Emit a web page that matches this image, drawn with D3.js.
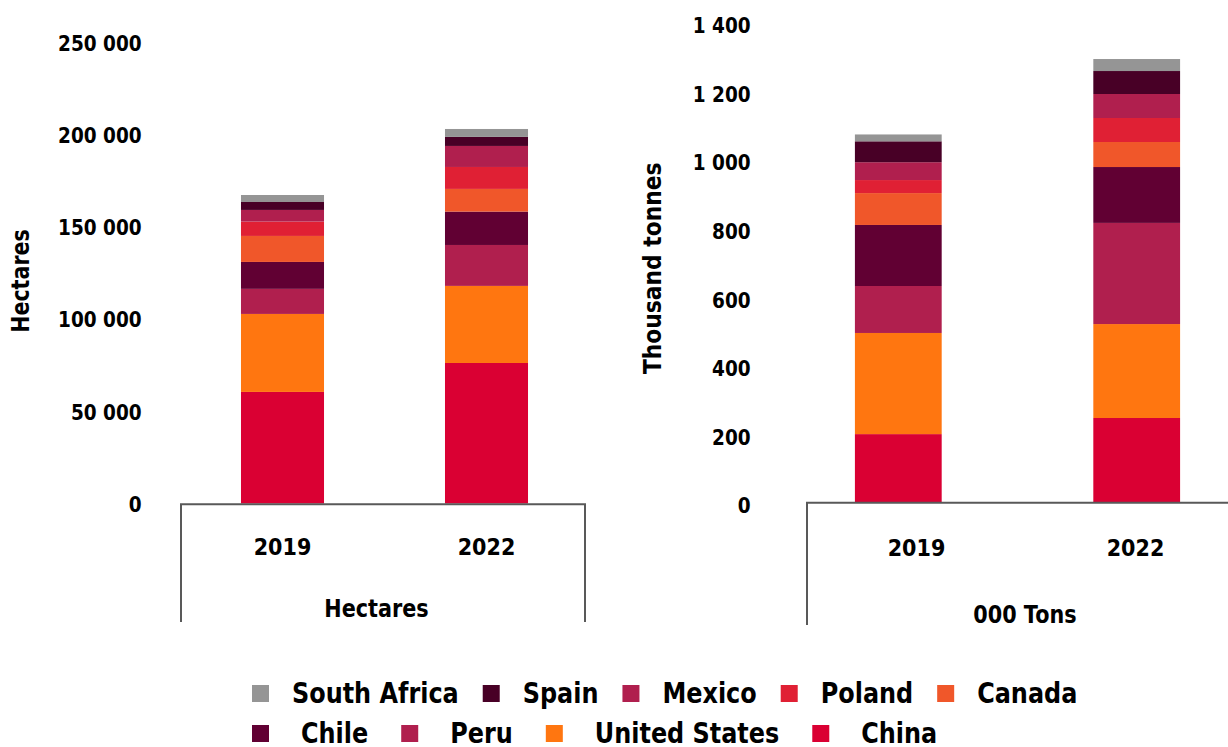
<!DOCTYPE html>
<html>
<head>
<meta charset="utf-8">
<script src="https://cdn.jsdelivr.net/npm/d3@7/dist/d3.min.js"></script>
<style>
  html, body { margin: 0; padding: 0; background: #fff; }
  svg { display: block; }
  text { font-family: "DejaVu Sans", sans-serif; font-weight: bold; fill: #000; }
</style>
</head>
<body>
<svg id="chart" width="1228" height="747"></svg>
<script>
// ---------------- data ----------------
const years = ["2019", "2022"];
const series = ["China", "United States", "Peru", "Chile", "Canada", "Poland", "Mexico", "Spain", "South Africa"];
const seriesColors = ["#DA0033", "#FF7610", "#B01F4E", "#610033", "#F0572A", "#E02034", "#B01F4E", "#480026", "#959595"];
const hectares2019 = [60500, 42300, 13600, 14600, 14100, 7800, 6300, 4300, 3800];
const hectares2022 = [76200, 41800, 22200, 18100, 12300, 11900, 11400, 4900, 4300];
const tons2019 = [198, 295, 137, 178, 93, 38, 52, 61, 20];
const tons2022 = [245, 274, 295, 163, 73, 70, 70, 67, 35];
const hectareTicks = [0, 50000, 100000, 150000, 200000, 250000];
const tonTicks = [0, 200, 400, 600, 800, 1000, 1200, 1400];
const groupLabels = ["Hectares", "000 Tons"];
const axisTitles = ["Hectares", "Thousand tonnes"];
const legendRow1 = ["South Africa", "Spain", "Mexico", "Poland", "Canada"];
const legendRow2 = ["Chile", "Peru", "United States", "China"];

// ---------------- setup ----------------
const svg = d3.select("#chart");
const color = d3.scaleOrdinal(series, seriesColors);
const locale = d3.formatLocale({ decimal: ".", thousands: "\u2009".replace("\u2009", " "), grouping: [3], currency: ["", ""] });
const fmt = locale.format(",");
const CAP = 0.3645; // half cap height ratio for DejaVu

function rowsFor(a, b) {
  return [a, b].map((vals, i) => {
    const r = { year: years[i] };
    series.forEach((s, j) => r[s] = vals[j]);
    return r;
  });
}
const stack = d3.stack().keys(series);

function drawChart(opts) {
  const g = svg.append("g");
  const y = d3.scaleLinear().domain(opts.domain).range(opts.yRange);
  const xBars = d3.scaleBand().domain(years).range(opts.barRange).paddingInner(opts.pad).paddingOuter(opts.pad / 2);
  const xLab = d3.scaleBand().domain(years).range(opts.labRange);

  const stacked = stack(rowsFor(opts.a, opts.b));
  g.selectAll("g.layer").data(stacked).join("g")
    .attr("class", "layer")
    .attr("fill", d => color(d.key))
    .selectAll("rect").data(d => d).join("rect")
    .attr("x", d => xBars(d.data.year))
    .attr("width", xBars.bandwidth())
    .attr("y", d => y(d[1]))
    .attr("height", d => y(d[0]) - y(d[1]));

  // y axis (labels only)
  const ax = g.append("g")
    .attr("transform", `translate(${opts.tickRight},0)`)
    .call(d3.axisLeft(y).tickValues(opts.ticks).tickSize(0).tickPadding(0).tickFormat(fmt));
  ax.select(".domain").remove();
  ax.selectAll(".tick text")
    .attr("x", null).attr("dy", null)
    .attr("text-anchor", "end")
    .attr("font-family", null)
    .style("font-size", "21.5px")
    .style("fill", "#000")
    .attr("transform", `translate(0,${CAP * 21.5 + opts.labelShift}) scale(0.86,1)`);

  // frame lines (category axis)
  const fl = opts.frame;
  g.append("path")
    .attr("d", `M${fl[0]},${fl[3]} V${fl[2]} H${fl[1]}` + (opts.closeRight ? ` V${fl[3]}` : ""))
    .attr("fill", "none").attr("stroke", "#595959").attr("stroke-width", 2);

  // category labels
  g.selectAll("text.cat").data(years).join("text")
    .attr("class", "cat")
    .attr("text-anchor", "middle")
    .style("font-size", "23px")
    .attr("transform", d => `translate(${xLab(d) + xLab.bandwidth() / 2},${opts.catY + CAP * 23}) scale(0.9,1)`)
    .text(d => d);

  // group label
  g.append("text")
    .attr("text-anchor", "middle")
    .style("font-size", "25px")
    .attr("transform", `translate(${opts.groupX},${opts.groupY + CAP * 25}) scale(0.83,1)`)
    .text(opts.groupLabel);

  // axis title
  g.append("text")
    .attr("text-anchor", "middle")
    .style("font-size", opts.titleSize + "px")
    .attr("transform", `translate(${opts.titleX + CAP * opts.titleSize},${opts.titleY}) rotate(-90) scale(${opts.titleScale},1)`)
    .text(opts.title);
}

drawChart({
  a: hectares2019, b: hectares2022,
  domain: [0, 250000], yRange: [503.5, 42.5], ticks: hectareTicks,
  barRange: [180.5, 588.5], pad: 0.593, labRange: [180.5, 588.5],
  tickRight: 141.7, labelShift: 0,
  frame: [181, 585, 504.3, 622], closeRight: true,
  catY: 546.7, groupX: 376.5, groupY: 607.5, groupLabel: groupLabels[0],
  title: axisTitles[0], titleX: 20.5, titleY: 281, titleSize: 24, titleScale: 0.86
});

drawChart({
  a: tons2019, b: tons2022,
  domain: [0, 1400], yRange: [502, 22], ticks: tonTicks,
  barRange: [779.1, 1255.9], pad: 0.636, labRange: [807, 1245],
  tickRight: 750.7, labelShift: 3,
  frame: [807, 1240, 502.7, 625], closeRight: false,
  catY: 547.5, groupX: 1025, groupY: 614, groupLabel: groupLabels[1],
  title: axisTitles[1], titleX: 651.7, titleY: 268.3, titleSize: 25, titleScale: 0.873
});

// ---------------- legend ----------------
const LFS = 29, LSX = 0.825;
function drawLegendRow(items, startX, cy, textGap, afterGap) {
  let x = startX;
  const g = svg.append("g");
  items.forEach(name => {
    g.append("rect")
      .attr("x", x).attr("y", cy - 8.5 + 1.5)
      .attr("width", 17).attr("height", 17)
      .attr("fill", color(name));
    const t = g.append("text")
      .style("font-size", LFS + "px")
      .attr("transform", `translate(${x + textGap},${cy + CAP * LFS}) scale(${LSX},1)`)
      .text(name);
    const w = t.node().getComputedTextLength() * LSX;
    x = x + textGap + w + afterGap;
  });
}
drawLegendRow(legendRow1, 252, 692, 40, 24);
drawLegendRow(legendRow2, 252, 732, 49, 33);
</script>
</body>
</html>
